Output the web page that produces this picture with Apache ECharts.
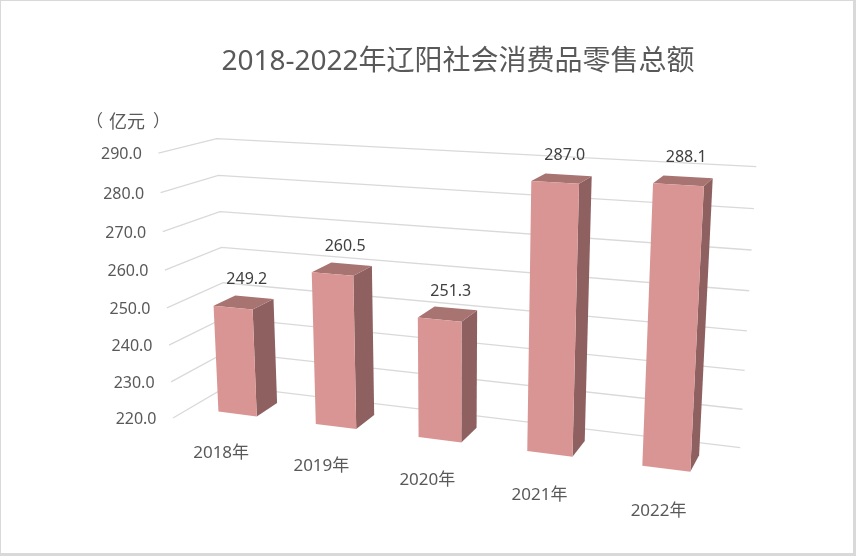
<!DOCTYPE html>
<html>
<head>
<meta charset="utf-8">
<script src="https://cdn.jsdelivr.net/npm/echarts@6/dist/echarts.min.js"></script>
<style>
  html, body { margin: 0; padding: 0; background: #fff; }
  #chart { width: 856px; height: 556px; }
</style>
</head>
<body>
<div id="chart"></div>
<script>
// 数据
const categories = ['2018年', '2019年', '2020年', '2021年', '2022年'];
const values = [249.2, 260.5, 251.3, 287.0, 288.1];
const yTicks = [220, 230, 240, 250, 260, 270, 280, 290];
const yMin = 220, yMax = 290;

// 透视相机（3x4 投影矩阵，m34 = 1）
// 世界坐标：X = 类目 0~5，Y = 数值轴 0~1，Z = 进深 0(前)~1(后墙)
const cam = [
  90.301442, -22.455564, 71.396703, 173.02383,
  1.2863027, -272.45359, -3.6844388, 418.04268,
  -0.0267223, -0.0496874, 0.0737904
];

const barWidthRatio = 0.4;        // 柱宽 / 类目宽
const zFront = 0.3, zBack = 0.7;  // 柱子进深
const colors = { front: '#D99594', side: '#8E6160', top: '#A87472', grid: '#D9D9D9' };
const FONT = "'Noto Sans', 'Noto Sans CJK SC', sans-serif";
const nCat = categories.length;

function project(X, Y, Z) {
  const w = cam[8] * X + cam[9] * Y + cam[10] * Z + 1;
  return [(cam[0] * X + cam[1] * Y + cam[2] * Z + cam[3]) / w,
          (cam[4] * X + cam[5] * Y + cam[6] * Z + cam[7]) / w];
}

// 隐藏直角坐标系的像素 -> 世界坐标
function toWorld(cs, pt) {
  return [(pt[0] - cs.x) / cs.width * nCat, (cs.y + cs.height - pt[1]) / cs.height];
}

function renderBar(params, api) {
  const cs = params.coordSys;
  const i = api.value(0), v = api.value(1);
  const halfW = api.size([1, 0])[0] * barWidthRatio / 2;
  const top = api.coord([i, v]), base = api.coord([i, yMin]);
  const [x0, y1] = toWorld(cs, [top[0] - halfW, top[1]]);
  const [x1, y0] = toWorld(cs, [base[0] + halfW, base[1]]);
  const P = project;
  const lab = P((x0 + x1) / 2, y1, (zFront + zBack) / 2);
  return {
    type: 'group',
    children: [
      { type: 'polygon', shape: { points: [P(x1, y0, zFront), P(x1, y0, zBack), P(x1, y1, zBack), P(x1, y1, zFront)] },
        style: { fill: colors.side } },
      { type: 'polygon', shape: { points: [P(x0, y1, zFront), P(x1, y1, zFront), P(x1, y1, zBack), P(x0, y1, zBack)] },
        style: { fill: colors.top } },
      { type: 'polygon', shape: { points: [P(x0, y0, zFront), P(x1, y0, zFront), P(x1, y1, zFront), P(x0, y1, zFront)] },
        style: { fill: colors.front } },
      { type: 'text', x: lab[0] + 3, y: lab[1] - 23,
        style: { text: v.toFixed(1), fill: '#404040', fontSize: 16, fontFamily: FONT, align: 'center', verticalAlign: 'middle' } }
    ]
  };
}

// 侧墙 + 后墙网格线和刻度标签
function renderGrid(params, api) {
  const cs = params.coordSys;
  const t = api.value(1);
  const Y = toWorld(cs, api.coord([0, t]))[1];
  const a = project(0, Y, 0), b = project(0, Y, 1), c = project(nCat, Y, 1);
  return {
    type: 'group',
    children: [
      { type: 'polyline', shape: { points: [a, b, c] }, style: { stroke: colors.grid, lineWidth: 1.3, fill: null } },
      { type: 'text', x: a[0] - 16.5, y: a[1] + 1.5,
        style: { text: t.toFixed(1), fill: '#595959', fontSize: 16, fontFamily: FONT, align: 'right', verticalAlign: 'middle' } }
    ]
  };
}

function renderCat(params, api) {
  const cs = params.coordSys;
  const i = api.value(0);
  const [X, Y] = toWorld(cs, api.coord([i, yMin]));
  const p = project(X, Y, 0);
  return { type: 'text', x: p[0], y: p[1] + 29,
    style: { text: categories[i], fill: '#595959', fontSize: 17, fontFamily: FONT, align: 'center', verticalAlign: 'middle' } };
}

const unitStyle = { fill: '#595959', fontSize: 17, fontFamily: "'Noto Sans CJK SC', sans-serif", verticalAlign: 'middle' };

const chart = echarts.init(document.getElementById('chart'));
chart.setOption({
  animation: false,
  backgroundColor: '#D9D9D9',
  grid: { left: 100, right: 100, top: 100, bottom: 100 },
  xAxis: { type: 'category', data: categories, show: false },
  yAxis: { type: 'value', min: yMin, max: yMax, show: false },
  graphic: [
    { type: 'rect', shape: { x: 1, y: 1, width: 852, height: 552 }, style: { fill: '#fff' }, z: -10 },
    { type: 'text', x: 458, y: 62, style: { text: '2018-2022年辽阳社会消费品零售总额', fill: '#595959', fontSize: 28, fontFamily: FONT, align: 'center', verticalAlign: 'middle' } },
    { type: 'text', x: 86, y: 121, style: Object.assign({ text: '（', align: 'left' }, unitStyle) },
    { type: 'text', x: 127, y: 121, style: Object.assign({ text: '亿元', align: 'center', fontSize: 18 }, unitStyle, { fontSize: 18 }) },
    { type: 'text', x: 170, y: 121, style: Object.assign({ text: '）', align: 'right' }, unitStyle) }
  ],
  series: [
    { type: 'custom', silent: true, z: 1, renderItem: renderGrid, data: yTicks.map(t => [0, t]) },
    { type: 'custom', silent: true, z: 2, renderItem: renderBar, data: values.map((v, i) => [i, v]) },
    { type: 'custom', silent: true, z: 3, renderItem: renderCat, data: categories.map((c, i) => [i, yMin]) }
  ]
});
</script>
</body>
</html>
